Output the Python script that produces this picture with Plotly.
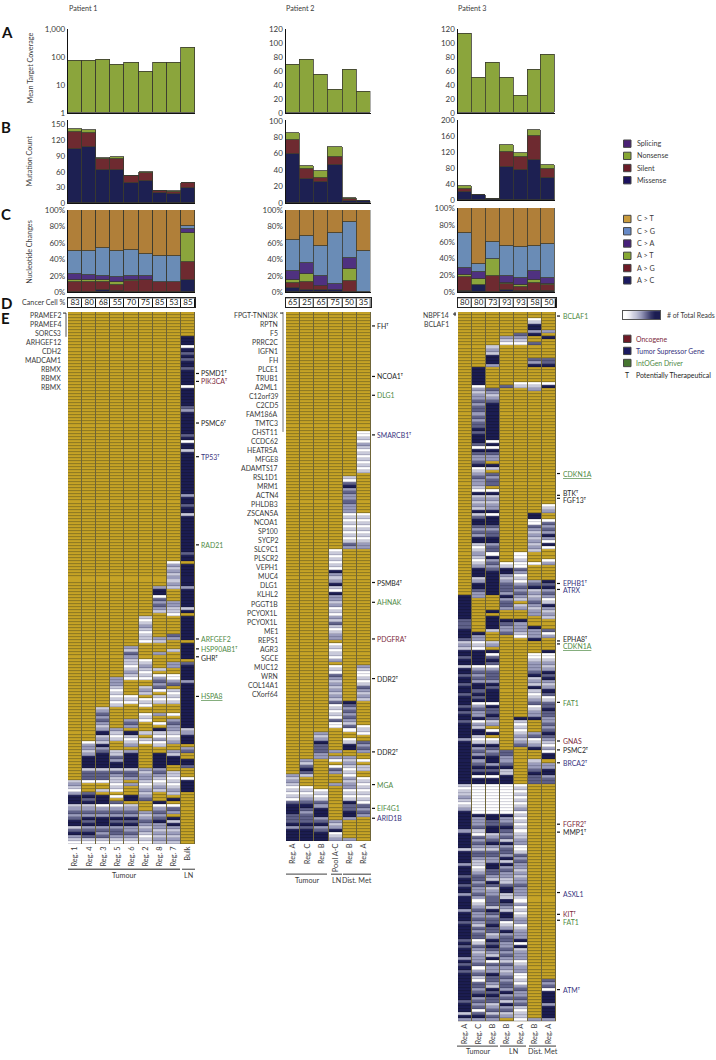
import plotly.graph_objects as go

W, H = 716, 1060
FONT = "Lato"
TXT = "#3a3a3a"
SUP = "\u1d40"

# ---------- Panel A: mean target coverage
P1_COVERAGE = [74, 74, 78, 51, 61, 30, 60, 61, 219]
P2_COVERAGE = [69, 76, 55, 32.5, 62, 30]
P3_COVERAGE = [113, 50, 71, 50, 25, 61, 83]
# ---------- Panel B: mutation counts
P1_MISSENSE = [104, 107, 64, 64, 39, 43, 19, 17, 30]
P1_SILENT = [33, 28, 21, 21, 13, 14, 4, 4, 8]
P1_NONSENSE = [4, 5, 1, 3, 0, 3, 1, 2, 0]
P2_MISSENSE = [60, 29.5, 26, 46, 3, 3]
P2_SILENT = [17, 11.5, 5, 10, 2.5, 0]
P2_NONSENSE = [8, 4.5, 8.5, 12.5, 1, 0]
P3_MISSENSE = [21, 12, 4, 84, 76, 102, 56]
P3_SILENT = [8, 0, 0, 38, 33, 60, 22]
P3_NONSENSE = [7, 0, 0, 17, 9, 15, 11]
# ---------- Panel C: nucleotide changes (%), bottom to top
P1_AC = [0, 0, 3, 2, 0, 0, 0, 0, 15.3]
P1_AG = [13, 12, 10, 7, 13.7, 15.3, 13, 13, 21]
P1_AT = [1.5, 2.5, 1.5, 4, 0.8, 0, 0, 0, 35.5]
P1_CA = [8.1, 6.9, 5.5, 5.5, 4.9, 4.1, 0, 0, 5.6]
P1_CG = [27.8, 29, 34, 31.5, 32.2, 27.4, 31, 31, 2.6]
P1_CT = [49.6, 49.6, 46, 50, 48.4, 53.2, 56, 56, 20]
P2_AC = [5, 2.5, 2.5, 2.5, 0, 0]
P2_AG = [6, 10.5, 4.5, 0, 14, 0]
P2_AT = [3.5, 9, 0, 0, 14, 0]
P2_CA = [11.5, 13.5, 13, 7.5, 14, 0]
P2_CG = [38, 33, 36.5, 62, 43.5, 50]
P2_CT = [36, 31.5, 43.5, 28, 14.5, 50]
P3_AC = [2, 8, 0, 3, 2, 1, 1]
P3_AG = [16.4, 0, 19.6, 7, 4.7, 10, 7]
P3_AT = [2.4, 7.7, 20, 0.6, 1.5, 3.5, 2]
P3_CA = [8.2, 8.6, 0, 9, 9.1, 11, 7]
P3_CG = [41, 8.7, 20, 35.4, 36.4, 29.5, 40]
P3_CT = [30, 67, 40.4, 45, 46.3, 45, 43]
# ---------- Panel D
P1_CELL = [83, 80, 68, 55, 70, 75, 85, 53, 85]
P2_CELL = [65, 25, 65, 75, 50, 35]
P3_CELL = [80, 80, 73, 93, 93, 58, 50]
# ---------- Column names
P1_REGIONS = ["Reg. 1", "Reg. 4", "Reg. 3", "Reg. 5", "Reg. 6", "Reg. 2", "Reg. 8", "Reg. 7", "Bulk"]
P2_REGIONS = ["Reg. A", "Reg. C", "Reg. B", "Pool A-C", "Reg. B", "Reg. A"]
P3_REGIONS = ["Reg. A", "Reg. C", "Reg. B", "Reg. B", "Reg. A", "Reg. B", "Reg. A"]
P1_ROWS, P2_ROWS, P3_ROWS = 175, 174, 233

# ---------- Panel E: read-count level per gene, as (first gene row, levels) runs.
# Levels: '.' no reads (gold), 0 white ... 4 navy. Rows not listed are gold.
P1_E = [
    [(154, "12102"), (159, "444"), (162, "1232"), (166, "344"), (169, "1"), (170, "34"), (172, "2"), (173, "10")],
    [(141, "02212"), (146, "4444"), (150, "1333"), (154, "0"), (158, "3"), (159, "434"), (162, "1232"), (166, "434"), (169, "234310")],
    [(130, "12323212"), (138, "4"), (139, "121"), (142, "423"), (145, "44444"), (150, "1333"), (154, "0"), (157, "1"), (159, "444"), (162, "0232"), (166, "444"), (169, "232310")],
    [(120, "2221"), (124, "010101"), (137, "2101"), (144, "1"), (145, "13244"), (150, "1321"), (154, "1010"), (159, "0"), (161, "3"), (162, "0232"), (166, "434"), (169, "233210")],
    [(110, "21321101210"), (126, "010"), (134, "232"), (138, "4"), (139, "101"), (142, "2"), (144, "2"), (145, "44444"), (150, "1332"), (155, "2"), (159, "44"), (162, "1232"), (166, "434"), (169, "223210")],
    [(100, "1012101"), (107, "10"), (114, "0121010"), (123, "121"), (127, "010"), (132, "010"), (138, "1"), (140, "10"), (150, "2122"), (154, "1012"), (158, "123"), (164, "21232121010")],
    [(90, "2"), (91, "44"), (93, "0"), (94, "3232"), (98, "1"), (107, "21"), (112, "2"), (117, "1"), (119, "0"), (120, "2323"), (124, "0"), (126, "101"), (132, "2"), (135, "0"), (137, "410201"), (145, "44444"), (150, "2321"), (154, "0121"), (161, "4"), (162, "0"), (163, "232"), (166, "342"), (169, "2121"), (173, "21")],
    [(82, "0"), (83, "21212121"), (95, "2211"), (99, "0"), (106, "32"), (111, "1"), (115, "22"), (119, "00"), (121, "2"), (122, "3"), (124, "10101"), (132, "0"), (134, "2322"), (138, "1"), (139, "012"), (144, "21"), (146, "444"), (151, "1"), (152, "10101"), (157, "21"), (160, "4"), (162, "0"), (163, "32"), (166, "414"), (169, "212121")],
    [(8, "4" * 150), (11, "0"), (13, "3"), (15, "3"), (18, "3"), (24, "0"), (31, "32"), (40, "3"), (42, "0"), (45, "1"), (60, "2"), (63, "3"), (66, "1"), (79, "3"), (82, "."), (90, "2"), (97, "1"), (99, "."), (108, "."), (114, "."), (115, "3"), (121, "2"), (137, "12"), (142, "."), (143, "23"), (145, ".."), (149, "3"), (150, "..."), (153, "0")],
]
P2_E = [
    [(152, "2121"), (156, "01010"), (161, "3444"), (165, "333"), (168, "42"), (170, "4444")],
    [(147, "21"), (149, "343"), (152, "1"), (156, "0101"), (160, "23432"), (165, "333"), (168, "43"), (170, "4444")],
    [(138, "212433322"), (157, "0101"), (161, "32"), (163, "444"), (166, "23"), (168, "423"), (171, "444")],
    [(78, "0101010"), (85, "4212"), (89, "410"), (92, "4"), (93, "2212"), (97, "010"), (100, "21"), (102, "3"), (103, "101"), (106, "22"), (109, "01010"), (114, "2"), (116, "010"), (119, "3"), (120, "2121"), (124, "2121"), (128, "3"), (129, "010101"), (134, "300"), (144, "2"), (146, "20"), (149, "032"), (155, "2"), (167, "212"), (170, "4010"), (173, "2")],
    [(54, "10"), (56, "34"), (58, "232"), (61, "2322"), (65, "2"), (66, "010101010"), (75, "132"), (128, "43"), (130, "2323213"), (137, "0"), (140, "01"), (142, "44"), (146, "21"), (148, "21010"), (153, "21"), (155, "22"), (157, "0101"), (161, "43"), (163, "343"), (165, "42"), (173, "2")],
    [(39, "0010"), (43, "2"), (44, "101010101"), (66, "0101010"), (73, "1012"), (77, "2"), (116, "2"), (117, "10"), (119, "010"), (122, "13"), (124, "212"), (127, "1"), (136, "010"), (141, "323"), (144, "2"), (147, "0"), (149, "11"), (153, "0"), (154, "1"), (155, "0101010"), (162, "323"), (165, "2")],
]
P3_E = [
    [(93, "4" * 140), (101, "3"), (102, "33"), (107, "3"), (108, "121"), (113, "3"), (116, "1"), (119, "3"), (122, "3"), (125, "3"), (129, "3"), (131, "3"), (134, "3"), (140, "2"), (155, "101121012"), (170, "2"), (176, "1"), (181, "2"), (185, "3"), (188, "3"), (191, "2"), (196, "2"), (200, "3"), (206, "3"), (208, "3"), (212, "2"), (214, "3"), (216, "3"), (226, "3"), (230, "1"), (232, "2")],
    [(18, "444444"), (24, "0"), (25, "212232"), (31, "3323233"), (38, "434443"), (44, "0"), (45, "4"), (46, "3223"), (50, "4"), (51, "01"), (53, "2322"), (57, "10"), (59, "4"), (60, "12121"), (65, "41"), (67, "3"), (68, "44"), (70, "3232"), (74, "44"), (76, "10121012"), (84, "444"), (87, "12"), (89, "44"), (91, "322"), (105, "4"), (106, "22"), (108, "010"), (111, "44444"), (116, "0"), (117, "23232"), (122, "4434"), (126, "34"), (128, "0"), (129, "2322"), (133, "40"), (135, "21"), (137, "44"), (139, "101"), (142, "4"), (143, "232"), (146, "4"), (147, "23"), (149, "434"), (152, "0"), (153, "44"), (155, "0" * 10), (165, "4"), (166, "22"),
     (168, "23103232133211012332322320123223213233013212223023103323423230342131")],
    [(11, "12"), (13, "1"), (14, "444"), (17, "2"), (25, "3"), (26, "212"), (29, "3434"), (31, "4" * 11), (42, "0"), (43, "4"), (44, "0"), (45, "4"), (46, "322"), (50, "4"), (51, "1"), (53, "3233"), (58, "0"), (59, "4"), (60, "121"), (63, "22"), (65, "40"), (67, "444"), (70, "3233"), (74, "44"), (76, "233"), (79, "04"), (81, "2323"), (85, "4"), (86, "4444"), (90, "4"), (91, "44"),
     (98, "4"), (100, "4"), (101, "44"), (103, "41"), (108, "12"), (111, "4"), (112, "0"), (113, "3"), (114, "4"), (115, "3"), (116, "0"), (117, "23332"), (122, "43444"), (127, "4"), (128, "0"), (129, "4334"), (133, "3"), (134, "1"), (135, "2"), (137, "0"), (138, "4"), (140, "0"), (141, "1"), (142, "4"), (143, "3"), (144, "2"), (145, "3"), (146, "4"), (147, "4"), (148, "2"), (149, "4"), (150, "3"), (151, "4"), (152, "0"), (153, "44"), (155, "0" * 10), (165, "4"), (166, "43"),
     (168, "344123421332244332143122333143233433124343214032243321434331231324")],
    [(8, "210"), (24, "3"), (82, "01"), (84, "44"), (86, "21"), (88, "2"), (89, "33"), (91, "32"), (93, "42"), (95, "332"), (101, "4"), (102, "3"), (103, "223"), (144, "33"), (146, "22"), (148, "34"), (150, "11"), (152, "444"), (155, "0" * 10), (165, "4"), (166, "22"),
     (168, "3432314233241423221134411432144301242332232321321232332423142312")],
    [(7, "3210"), (23, "01"), (79, "00100"), (84, "32"), (86, "010"), (89, "23"), (91, "232"), (94, "1"), (96, "12"), (101, "4"), (102, "222"), (105, "10"), (133, "4"), (134, "10101212"), (142, "3"), (155, "010101012"), (164, "0101"),
     (168, "01011220013232212122322210201012201222404122201220010232232310110102")],
    [(2, "01"), (4, "44"), (6, "24"), (10, "3"), (15, "324"), (23, "012"), (66, "44"), (68, "00"), (70, "32"), (72, "1212121"), (82, "0"), (88, "234"), (91, "1"), (92, "21232122"), (103, "4"), (104, "222"), (107, "4"), (112, "00"), (114, "12"), (116, "223"), (119, "4"), (120, "121"), (123, "41012"), (128, "3"), (129, "012"), (132, "2"), (133, "4"), (138, "23"), (140, "01"), (142, "24"), (147, "12"), (149, "23"), (151, "4"), (152, "333"), (232, "2")],
    [(6, "2"), (8, "4"), (15, "33"), (17, "4"), (23, "01"), (24, "4"), (63, "012"), (68, "0"), (69, "3232"), (73, "4204"), (77, "0"), (81, "02"), (88, "434"),
     (91, "232014212" + "1..." + "302" + "...." + "4" + "00" + "1212" + "434" + "212" + "43" + "01" + "33" + "433" + "22" + "32" + "34" + "3210" + "20" + "44" + "." + "22" + "44" + "233"),
     (219, "323"), (222, "0"), (223, "4444"), (227, "2"), (228, "4444"), (232, "2")],
]

# ---------- Gene labels
P1_LEFT = ["PRAMEF2", "PRAMEF4", "SORCS3", "ARHGEF12", "CDH2", "MADCAM1", "RBMX", "RBMX", "RBMX"]
P2_LEFT = ["FPGT-TNNI3K", "RPTN", "F5", "PRRC2C", "IGFN1", "FH", "PLCE1", "TRUB1", "A2ML1", "C12orf39", "C2CD5", "FAM186A", "TMTC3", "CHST11", "CCDC62", "HEATR5A", "MFGE8", "ADAMTS17", "RSL1D1", "MRM1", "ACTN4", "PHLDB3", "ZSCAN5A", "NCOA1", "SP100", "SYCP2", "SLC9C1", "PLSCR2", "VEPH1", "MUC4", "DLG1", "KLHL2", "PGGT1B", "PCYOX1L", "PCYOX1L", "ME1", "REPS1", "AGR3", "SGCE", "MUC12", "WRN", "COL14A1", "CXorf64"]
P3_LEFT = ["NBPF14", "BCLAF1"]
GREEN, MAROON, NAVY, BLACK = "#4f8a45", "#7d2a3c", "#37337e", "#262626"
P1_RIGHT = [("PSMD1" + SUP, 372, BLACK, 372), ("PIK3CA" + SUP, 380, MAROON, 380), ("PSMC6" + SUP, 422, BLACK, 422), ("TP53" + SUP, 456, NAVY, 456), ("RAD21", 545, GREEN, 545), ("ARFGEF2", 640, GREEN, 640), ("HSP90AB1" + SUP, 650, GREEN, 650), ("GHR" + SUP, 659, BLACK, 658), ("<u>HSPA8</u>", 698, GREEN, 698)]
P2_RIGHT = [("FH" + SUP, 324, BLACK, 324), ("NCOA1" + SUP, 375, BLACK, 375), ("DLG1", 394, GREEN, 394), ("SMARCB1" + SUP, 434, NAVY, 434), ("PSMB4" + SUP, 583, BLACK, 583), ("AHNAK", 603, GREEN, 603), ("PDGFRA" + SUP, 640, MAROON, 640), ("DDR2" + SUP, 680, BLACK, 680), ("DDR2" + SUP, 754, BLACK, 754), ("MGA", 787, GREEN, 787), ("EIF4G1", 811, GREEN, 811), ("ARID1B", 821, NAVY, 821)]
P3_RIGHT = [("BCLAF1", 314, GREEN, 314), ("<u>CDKN1A</u>", 473, GREEN, 473), ("BTK" + SUP, 493, BLACK, 495), ("FGF13" + SUP, 500, BLACK, 498), ("EPHB1" + SUP, 584, NAVY, 584), ("ATRX", 591, NAVY, 590), ("EPHA8" + SUP, 640, BLACK, 642), ("<u>CDKN1A</u>", 647, GREEN, 645), ("FAT1", 705, GREEN, 704), ("GNAS", 743, MAROON, 743), ("PSMC2" + SUP, 752, BLACK, 752), ("BRCA2" + SUP, 765, NAVY, 765), ("FGFR2" + SUP, 827, MAROON, 827), ("MMP1" + SUP, 835, BLACK, 835), ("ASXL1", 897, NAVY, 896), ("KIT" + SUP, 918, MAROON, 918), ("FAT1", 926, GREEN, 924), ("ATM" + SUP, 994, NAVY, 994)]

# ---------- Styles
C_GREEN, C_MAROON, C_NAVY, C_PURPLE, C_BLUE, C_ORANGE = "#8ba53c", "#6e2a30", "#1d2052", "#4f3180", "#6a8cb6", "#b07f39"
EDGE = "#3a3a30"
SHADES = ["#ffffff", "#c9cadb", "#9a9cbc", "#5f6189", "#1c1d52", "#c6a326"]
LINES = ["#cfcfd9", "#a5a6bc", "#7a7c9c", "#4b4d72", "#17183f", "#8a7622"]
LEVEL = {"0": 0, "1": 1, "2": 2, "3": 3, "4": 4, ".": 5}
colorscale = []
for k, c in enumerate(SHADES + LINES):
    colorscale += [[k / 12, c], [(k + 1) / 12, c]]

fig = go.Figure()
layout = dict(
    width=W, height=H, autosize=False, margin=dict(l=0, r=0, t=0, b=0),
    paper_bgcolor="white", plot_bgcolor="white", barmode="stack", bargap=0,
    font=dict(family=FONT, size=8, color=TXT), showlegend=False,
)
shapes, annotations = [], []
axis_no = [0]


def fx(x):
    return x / W


def fy(y):
    return 1 - y / H


def new_axes(x0, x1, top, bottom, xa, ya):
    axis_no[0] += 1
    i = axis_no[0]
    layout[f"xaxis{i}"] = dict(domain=[fx(x0), fx(x1)], anchor=f"y{i}", fixedrange=True, showgrid=False, zeroline=False, **xa)
    layout[f"yaxis{i}"] = dict(domain=[fy(bottom), fy(top)], anchor=f"x{i}", fixedrange=True, showgrid=False, zeroline=False, **ya)
    return f"x{i}", f"y{i}"


def note(x, y, text, anchor="left", size=7.2, color=TXT, angle=0, bold=False):
    annotations.append(dict(x=fx(x), y=fy(y), xref="paper", yref="paper", text=f"<b>{text}</b>" if bold else text,
                            showarrow=False, xanchor=anchor, yanchor="middle", textangle=angle, align=anchor,
                            font=dict(family=FONT, size=size, color=color), borderpad=0, borderwidth=0))


def seg(x0, y0, x1, y1, color="#222", width=1):
    shapes.append(dict(type="line", xref="paper", yref="paper", x0=fx(x0), y0=fy(y0), x1=fx(x1), y1=fy(y1),
                       line=dict(color=color, width=width)))


def box(x0, y0, x1, y1, fill, line=None, width=0, layer="above"):
    shapes.append(dict(type="rect", xref="paper", yref="paper", x0=fx(x0), y0=fy(y0), x1=fx(x1), y1=fy(y1),
                       fillcolor=fill, line=dict(color=line or fill, width=width), layer=layer))


def bars(xa, ya, n, stack):
    xs = list(range(n))
    for vals, color in stack:
        fig.add_trace(go.Bar(x=xs, y=vals, xaxis=xa, yaxis=ya, marker=dict(color=color, line=dict(color=EDGE, width=0.8)), hoverinfo="skip"))


def bar_axes(x0, x1, top, bottom, n, vals, texts, rng, kind="linear"):
    axis_line = dict(showline=True, linecolor="#111", linewidth=1.4, ticks="", tickfont=dict(family=FONT, size=8, color=TXT), ticklen=0)
    return new_axes(x0, x1, top, bottom,
                    dict(range=[-0.5, n - 0.5], showticklabels=False, showline=True, linecolor="#111", linewidth=1.2, ticks=""),
                    dict(type=kind, range=rng, tickmode="array", tickvals=vals, ticktext=texts, **axis_line))


def expand(runs, n):
    col = ["."] * n
    for start, levels in runs:
        for k, ch in enumerate(levels):
            if start + k < n:
                col[start + k] = ch
    return [LEVEL[ch] for ch in col]


def heat(x0, x1, top, bottom, n_rows, columns, names):
    h = (bottom - top) / n_rows
    line_frac = 1 / h
    edges, rows = [0], []
    cols = [expand(c, n_rows) for c in columns]
    for r in range(n_rows):
        edges += [r + 1 - line_frac, r + 1]
        rows.append([c[r] for c in cols])
        rows.append([c[r] + 6 for c in cols])
    box(x0, top, x1, bottom, "#6f6538", layer="below")
    n = len(columns)
    xa, ya = new_axes(x0, x1, top, bottom,
                      dict(range=[-0.5, n - 0.5], tickmode="array", tickvals=list(range(n)), ticktext=names, tickangle=-90,
                           ticks="", ticklen=0, tickfont=dict(family=FONT, size=7.4, color=TXT)),
                      dict(range=[n_rows, 0], showticklabels=False, ticks=""))
    fig.add_trace(go.Heatmap(z=rows, x=list(range(n)), y=edges, xgap=1, colorscale=colorscale, zmin=0, zmax=12,
                             showscale=False, hoverinfo="skip", xaxis=xa, yaxis=ya))


def cells(x0, x1, values):
    n = len(values)
    box(x0, 296, x1, 305, "#111", layer="below")
    xa, ya = new_axes(x0, x1, 296, 305,
                      dict(range=[-0.5, n - 0.5], showticklabels=False, ticks="", showline=True, mirror=True, linecolor="#222", linewidth=1),
                      dict(range=[-0.5, 0.5], showticklabels=False, ticks="", showline=True, mirror=True, linecolor="#222", linewidth=1))
    xs = list(range(n))
    fig.add_trace(go.Heatmap(z=[[0] * n], x=xs, y=[0], xgap=1, colorscale=[[0, "white"], [1, "white"]], showscale=False, hoverinfo="skip", xaxis=xa, yaxis=ya))
    fig.add_trace(go.Scatter(x=xs, y=[0] * n, mode="text", text=[str(v) for v in values], textposition="middle center",
                             textfont=dict(family=FONT, size=8, color="#222"), hoverinfo="skip", xaxis=xa, yaxis=ya))


def right_labels(tick_x, text_x, items):
    for text, y, color, tick_y in items:
        seg(tick_x, tick_y, tick_x + 3, tick_y, "#111", 1.2)
        note(text_x, y, text, color=color, size=6.9)


PANELS = [
    dict(x0=68, x1=195, cov=P1_COVERAGE, mut=(P1_MISSENSE, P1_SILENT, P1_NONSENSE), nuc=(P1_AC, P1_AG, P1_AT, P1_CA, P1_CG, P1_CT),
         cov_axis=([1, 10, 100, 1000], ["1", "10", "100", "1,000"], [0, 3], "log"), mut_axis=([0, 30, 60, 90, 120, 150], [0, 159]), mut_bottom=200, nuc_top=207),
    dict(x0=285.7, x1=370.5, cov=P2_COVERAGE, mut=(P2_MISSENSE, P2_SILENT, P2_NONSENSE), nuc=(P2_AC, P2_AG, P2_AT, P2_CA, P2_CG, P2_CT),
         cov_axis=([0, 20, 40, 60, 80, 100, 120], [str(v) for v in (0, 20, 40, 60, 80, 100, 120)], [0, 120], "linear"), mut_axis=([0, 20, 40, 60, 80, 100], [0, 101]), mut_bottom=200, nuc_top=207),
    dict(x0=457.7, x1=555, cov=P3_COVERAGE, mut=(P3_MISSENSE, P3_SILENT, P3_NONSENSE), nuc=(P3_AC, P3_AG, P3_AT, P3_CA, P3_CG, P3_CT),
         cov_axis=([0, 20, 40, 60, 80, 100, 120], [str(v) for v in (0, 20, 40, 60, 80, 100, 120)], [0, 120], "linear"), mut_axis=([0, 40, 80, 120, 160, 200], [0, 201]), mut_bottom=197, nuc_top=205),
]
PCT = [0, 20, 40, 60, 80, 100]
for p in PANELS:
    n = len(p["cov"])
    vals, texts, rng, kind = p["cov_axis"]
    xa, ya = bar_axes(p["x0"], p["x1"], 24, 109, n, vals, texts, rng, kind)
    if kind == "log":
        fig.add_trace(go.Bar(x=list(range(n)), y=[v - 1 for v in p["cov"]], base=1, xaxis=xa, yaxis=ya, marker=dict(color=C_GREEN, line=dict(color=EDGE, width=0.8)), hoverinfo="skip"))
    else:
        bars(xa, ya, n, [(p["cov"], C_GREEN)])
    mv, mr = p["mut_axis"]
    xa, ya = bar_axes(p["x0"], p["x1"], 116, p["mut_bottom"], n, mv, [str(v) for v in mv], mr)
    bars(xa, ya, n, list(zip(p["mut"], (C_NAVY, C_MAROON, C_GREEN))))
    xa, ya = bar_axes(p["x0"], p["x1"], p["nuc_top"], 290, n, PCT, [f"{v}%" for v in PCT], [0, 100])
    bars(xa, ya, n, list(zip(p["nuc"], (C_NAVY, C_MAROON, C_GREEN, C_PURPLE, C_BLUE, C_ORANGE))))

cells(68, 195, P1_CELL)
cells(285.7, 370.5, P2_CELL)
cells(457.7, 556, P3_CELL)

heat(68, 195, 310, 847, P1_ROWS, P1_E, P1_REGIONS)
heat(286, 371, 310, 844, P2_ROWS, P2_E, P2_REGIONS)
heat(458, 556, 310, 1026, P3_ROWS, P3_E, P3_REGIONS)

# Gene labels
for i, name in enumerate(P1_LEFT):
    note(60.5, 313 + 9.1 * i, name, "right", size=6.9)
for i, name in enumerate(P2_LEFT):
    note(277.5, 313 + 9.1 * i, name, "right", size=6.9)
for i, name in enumerate(P3_LEFT):
    note(449, 313 + 9.1 * i, name, "right", size=6.9)
seg(66, 311, 66, 335, "#555", 1)
seg(63, 311, 66, 311, "#222", 1)
seg(283, 310, 283, 431, "#777", 1)
seg(280, 311, 283, 311, "#222", 1)
seg(453, 312, 456, 312, "#222", 1)
seg(455, 310, 455, 314, "#222", 1)
right_labels(196, 201, P1_RIGHT)
right_labels(372, 377, P2_RIGHT)
right_labels(557, 563, P3_RIGHT)

# Headers and panel letters
note(68.5, 3.5, "Patient 1", size=7.2)
note(285.5, 3.5, "Patient 2", size=7.2)
note(457.5, 3.5, "Patient 3", size=7.2)
for letter, y in (("A", 27), ("B", 123), ("C", 211), ("D", 301), ("E", 316)):
    note(0.5, y, letter, size=15, color="#111", bold=True)
note(30, 63, "Mean Target Coverage", "center", angle=-90)
note(30, 157, "Mutation Count", "center", angle=-90)
note(30, 249, "Nucleotide Changes", "center", angle=-90)
note(65.5, 300.5, "Cancer Cell %", "right")

# Region groups under the heatmaps
GROUPS = [
    (872.5, 878.5, [(68, 180, "Tumour"), (182, 195, "LN")]),
    (877.5, 883.5, [(286, 327, "Tumour"), (331, 342, "LN"), (343, 371, "Dist. Met")]),
    (1051, 1056.5, [(457, 498, "Tumour"), (500, 526, "LN"), (529, 556, "Dist. Met")]),
]
for ly, ty, items in GROUPS:
    for a, b, label in items:
        seg(a, ly, b, ly, "#666", 1.3)
        note((a + b) / 2, ty, label, "center")

# Legends
MUT_LEGEND = [("Splicing", "#4a2175"), ("Nonsense", "#86a633"), ("Silent", "#6b1c28"), ("Missense", "#1b125e")]
NUC_LEGEND = [("C &gt; T", "#c99b3d"), ("C &gt; G", "#6689c6"), ("C &gt; A", "#47207a"), ("A &gt; T", "#86a833"), ("A &gt; G", "#6e1a26"), ("A &gt; C", "#1b1a60")]
GENE_LEGEND = [("Oncogene", "#6e1a26", MAROON), ("Tumor Supressor Gene", "#1b1a60", NAVY), ("IntOGen Driver", "#45752f", GREEN)]
for i, (label, c) in enumerate(MUT_LEGEND):
    y = 140 + 12.3 * i
    box(623.5, y - 3.7, 631, y + 3.7, c, "#444", 1)
    note(636.5, y, label)
for i, (label, c) in enumerate(NUC_LEGEND):
    y = 216 + 12.4 * i
    box(623.5, y - 3.7, 631, y + 3.7, c, "#444", 1)
    note(636.5, y, label)
for i, (label, c, tc) in enumerate(GENE_LEGEND):
    y = 337 + 12.2 * i
    box(623.5, y - 3.7, 631, y + 3.7, c, "#444", 1)
    note(636, y, label, color=tc, size=6.9)
note(627, 373.5, "T", "center", color=BLACK, size=6.9)
note(636, 373.5, "Potentially Therapeutical", color=BLACK, size=6.9)
note(667, 313, "# of Total Reads", size=6.9)
GRADIENT = [0, 0, 5, 10, 18, 26, 34, 42, 50, 58, 66, 74, 82, 90, 95, 100, 100, 100]
xa, ya = new_axes(622.5, 660, 309, 317,
                  dict(range=[-0.5, len(GRADIENT) - 0.5], showticklabels=False, ticks="", showline=True, mirror=True, linecolor="#555", linewidth=1.3),
                  dict(showticklabels=False, ticks="", showline=True, mirror=True, linecolor="#555", linewidth=1.3))
fig.add_trace(go.Heatmap(z=[GRADIENT], colorscale=[[0, "#ffffff"], [0.5, "#9a9cbc"], [1, "#1c1d52"]], zsmooth="best", showscale=False, hoverinfo="skip", xaxis=xa, yaxis=ya))

layout["shapes"] = shapes
layout["annotations"] = annotations
fig.update_layout(**layout)
fig.write_html("out.html", config=dict(displayModeBar=False),
               post_script="document.body.style.margin='0';document.body.style.overflow='hidden';")
